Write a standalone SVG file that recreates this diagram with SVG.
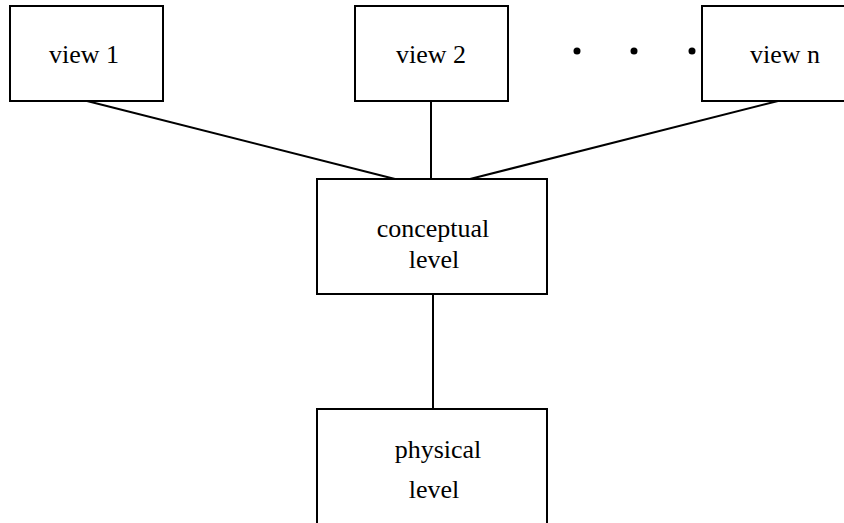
<svg xmlns="http://www.w3.org/2000/svg" width="844" height="523" viewBox="0 0 844 523">
<style>
.box{fill:#fff;stroke:#000;stroke-width:2}
.ln{stroke:#000;stroke-width:2;fill:none}
text{font-family:"Liberation Serif","Times New Roman",serif;font-size:26px;fill:#000;text-anchor:middle}
</style>
<rect width="844" height="523" fill="#fff"/>
<g id="connectors">
<line class="ln" x1="87" y1="101" x2="395" y2="179"/>
<line class="ln" x1="431" y1="101" x2="431" y2="179"/>
<line class="ln" x1="778" y1="101" x2="470" y2="179"/>
<line class="ln" x1="433" y1="294" x2="433" y2="409"/>
</g>
<g id="view1"><rect class="box" x="10" y="6" width="153" height="95"/><text x="84" y="63">view 1</text></g>
<g id="view2"><rect class="box" x="355" y="6" width="153" height="95"/><text x="431" y="63">view 2</text></g>
<g id="dots"><circle cx="577" cy="51" r="3.5"/><circle cx="634" cy="51" r="3.5"/><circle cx="692" cy="51" r="3.5"/></g>
<g id="viewn"><rect class="box" x="702" y="6" width="160" height="95"/><text x="785" y="63">view n</text></g>
<g id="conceptual"><rect class="box" x="317" y="179" width="230" height="115"/><text x="433" y="237">conceptual</text><text x="434" y="268">level</text></g>
<g id="physical"><rect class="box" x="317" y="409" width="230" height="130"/><text x="438" y="458">physical</text><text x="434" y="498">level</text></g>
</svg>
